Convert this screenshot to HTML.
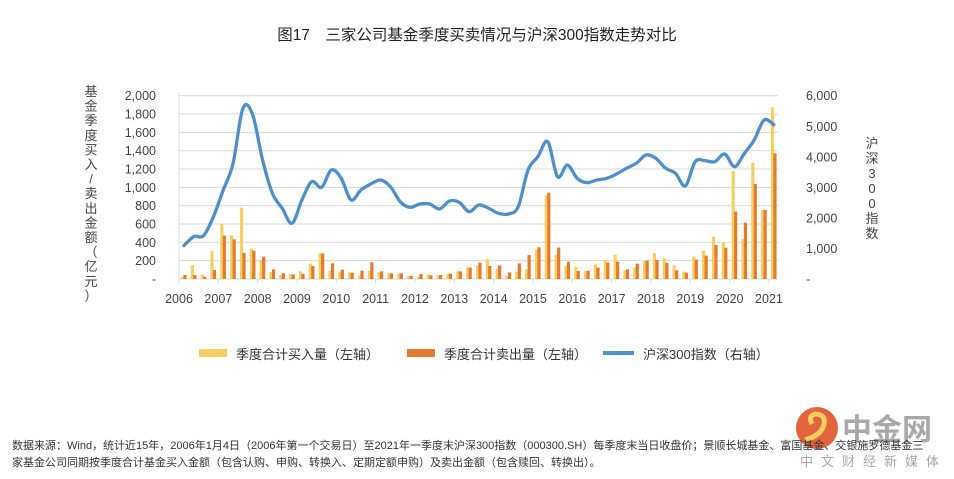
<!DOCTYPE html>
<html><head><meta charset="utf-8"><style>
html,body{margin:0;padding:0;background:#fff;width:954px;height:479px;overflow:hidden;font-family:"Liberation Sans","Noto Sans CJK SC",sans-serif;}
svg text{font-family:"Liberation Sans","Noto Sans CJK SC",sans-serif;}
</style></head><body>
<svg width="954" height="479">
<g id="root"></g>
</svg>
<script>
const quarters=[];for(let y=2006;y<=2021;y++){for(let q=1;q<=4;q++){if(y===2021&&q>1)break;quarters.push(y+'Q'+q);}}
const buyValues=[25,153,51,306,600,477,779,331,207,76,44,51,84,167,280,87,80,73,36,87,73,62,58,36,25,51,44,58,84,127,149,218,109,36,80,106,324,914,262,146,135,87,160,207,266,95,127,200,280,226,146,80,244,309,462,397,1179,437,1267,753,1875];
const sellValues=[44,44,25,98,473,433,284,309,244,106,62,51,55,142,280,171,102,69,91,182,84,62,62,33,55,40,44,58,84,124,178,142,149,73,171,262,346,943,342,189,87,91,124,178,189,106,167,200,207,175,95,69,211,255,371,342,735,615,1037,753,1372];
const hs300Values=[1091,1386,1418,2040,2913,3786,5586,5368,3895,2804,2313,1822,2586,3186,3000,3568,3295,2586,2913,3109,3240,3022,2531,2346,2455,2455,2291,2553,2509,2204,2422,2313,2149,2127,2368,3568,4004,4495,3349,3731,3295,3153,3240,3295,3437,3622,3786,4058,3949,3622,3458,3050,3840,3873,3840,4091,3677,4113,4550,5204,5050];
const leftTicks=[0,200,400,600,800,1000,1200,1400,1600,1800,2000];
const rightTicks=[0,1000,2000,3000,4000,5000,6000];
const yearLabels=[2006,2007,2008,2009,2010,2011,2012,2013,2014,2015,2016,2017,2018,2019,2020,2021];

const NS='http://www.w3.org/2000/svg';
const root=document.getElementById('root');
function el(t,a,p){const e=document.createElementNS(NS,t);for(const k in a)e.setAttribute(k,a[k]);(p||root).appendChild(e);return e;}
const X0=179,YEARW=39.33,Y0=279,YT=95.7;
const xYear=i=>X0+i*YEARW;
const xQ=i=>X0+(i+0.5)*YEARW/4;
const yL=v=>Y0-v/2000*(Y0-YT);
const yR=v=>Y0-v/6000*(Y0-YT);

let t=el('text',{x:477,y:40,'text-anchor':'middle','font-size':15.5,fill:'#222'});t.textContent='图17　三家公司基金季度买卖情况与沪深300指数走势对比';



// grid + left ticks
leftTicks.forEach(v=>{
  const g=el('line',{x1:X0,x2:778,y1:yL(v),y2:yL(v),stroke:'#d9d9d9','stroke-width':1});
  
  
  const tx=el('text',{x:156,y:yL(v)+4.5,'text-anchor':'end','font-size':12.5,fill:'#444'});
  tx.textContent=v===0?'-':v.toLocaleString('en-US');
  
  
});
rightTicks.forEach(v=>{
  const tx=el('text',{x:806,y:yR(v)+4.5,'font-size':12.5,fill:'#444'});
  tx.textContent=v===0?'-':v.toLocaleString('en-US');
  
  
});
el('line',{x1:X0,x2:X0,y1:YT-3,y2:Y0+4,stroke:'#d9d9d9'});
el('line',{x1:X0,x2:778,y1:Y0,y2:Y0,stroke:'#d9d9d9'});
yearLabels.forEach((yr,i)=>{
  el('line',{x1:xYear(i),x2:xYear(i),y1:Y0,y2:Y0+4,stroke:'#d9d9d9'});
  const tx=el('text',{x:xYear(i),y:303,'text-anchor':'middle','font-size':12.5,fill:'#444'});
  tx.textContent=yr;
  
  
});
// bars
quarters.forEach((q,i)=>{
  const c=xQ(i);
  const b=el('rect',{x:c-3,y:yL(buyValues[i]),width:3.2,height:Y0-yL(buyValues[i]),fill:'#f6cf62'});
  
  
  const s=el('rect',{x:c-0.5,y:yL(sellValues[i]),width:3.2,height:Y0-yL(sellValues[i]),fill:'#e57b2f'});
  
  
});
// smooth line
const pts=hs300Values.map((v,i)=>[xQ(i),yR(v)]);
let d='M'+pts[0][0]+','+pts[0][1];
for(let i=0;i<pts.length-1;i++){
  const p0=pts[Math.max(0,i-1)],p1=pts[i],p2=pts[i+1],p3=pts[Math.min(pts.length-1,i+2)];
  const c1=[p1[0]+(p2[0]-p0[0])/6,p1[1]+(p2[1]-p0[1])/6];
  const c2=[p2[0]-(p3[0]-p1[0])/6,p2[1]-(p3[1]-p1[1])/6];
  d+=` C${c1[0]},${c1[1]} ${c2[0]},${c2[1]} ${p2[0]},${p2[1]}`;
}
const ln=el('path',{d:d,fill:'none',stroke:'#4f8fca','stroke-width':3.3,'stroke-linejoin':'round','stroke-linecap':'round'});



// axis titles (vertical)
const lt='基金季度买入/卖出金额（亿元）';
const ltg=el('g',{});


[...lt].forEach((ch,i)=>{const tx=el('text',{x:91,y:96+i*14.6,'text-anchor':'middle','font-size':13,fill:'#444'},ltg);tx.textContent=ch;});
const rt='沪深300指数';
const rtg=el('g',{});


[...rt].forEach((ch,i)=>{const tx=el('text',{x:872,y:148+i*15,'text-anchor':'middle','font-size':13,fill:'#444'},rtg);tx.textContent=ch;});

// legend
function leg(x,name,label,draw){
  const g=el('g',{});
  
  
  draw(g);
  const tx=el('text',{x:x,y:359,'font-size':13,fill:'#333'},g);tx.textContent=label;
}
leg(236,'legend-buy','季度合计买入量（左轴）',g=>el('rect',{x:199,y:349,width:28,height:8,fill:'#f6cf62'},g));
leg(444,'legend-sell','季度合计卖出量（左轴）',g=>el('rect',{x:407,y:349,width:28,height:8,fill:'#e57b2f'},g));
leg(643,'legend-hs300','沪深300指数（右轴）',g=>el('line',{x1:603,x2:634,y1:353,y2:353,stroke:'#4f8fca','stroke-width':4},g));

// watermark
const wm=el('g',{opacity:0.85});


el('circle',{cx:817,cy:428,r:21,fill:'#dd4a1c'},wm);
el('path',{d:'M805,440 Q822,435 824,424 Q826,414 815,414 Q808,416 812,424',fill:'none',stroke:'#f6c445','stroke-width':5},wm);
let w=el('text',{x:842,y:440,'font-size':30,'font-weight':'bold',fill:'#9a9a9a'},wm);w.textContent='中金网';
w=el('text',{x:800,y:466,'font-size':13,fill:'#999','letter-spacing':'8'},wm);w.textContent='中文财经新媒体';

// footer
const f1=el('text',{x:12,y:449,'font-size':11,fill:'#333'});
f1.textContent='数据来源：Wind，统计近15年，2006年1月4日（2006年第一个交易日）至2021年一季度末沪深300指数（000300.SH）每季度末当日收盘价；景顺长城基金、富国基金、交银施罗德基金三';


const f2=el('text',{x:12,y:466,'font-size':11,fill:'#333'});
f2.textContent='家基金公司同期按季度合计基金买入金额（包含认购、申购、转换入、定期定额申购）及卖出金额（包含赎回、转换出）。';


</script>
</body></html>
